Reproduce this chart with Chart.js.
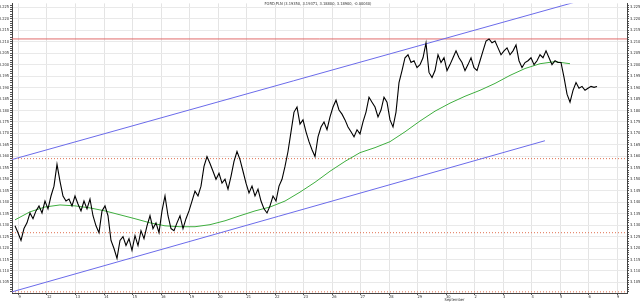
<!DOCTYPE html>
<html><head><meta charset="utf-8">
<script src="https://cdn.jsdelivr.net/npm/chart.js@4"></script>
<style>html,body{margin:0;padding:0;background:#fff;overflow:hidden}canvas{display:block}</style>
</head><body>
<canvas id="c" width="640" height="302"></canvas>
<script>
const TITLE = 'FORD PLN (3.19350, 3.19371, 3.18800, 3.18900, -0.00040)';
const MONTH_LABEL = 'September';
const MONTH_LABEL_DAY = 15.3;
const DAY_LABELS = ['9','12','13','14','15','16','19','20','21','22','23','26','27','28','29','30','2','3','4','5','6','9'];
const Y_TICKS = [3.105,3.110,3.115,3.120,3.125,3.130,3.135,3.140,3.145,3.150,3.155,3.160,3.165,3.170,3.175,3.180,3.185,3.190,3.195,3.200,3.205,3.210,3.215,3.220,3.225];
const X_RANGE = [-0.228, 21.35];
const Y_RANGE = [3.1004, 3.2267];

const PRICE_START_DAY = -0.123;
const SAMPLES_PER_DAY = 9.5;
const PRICES = [
3.1297,3.1267,3.1233,3.1285,3.1310,3.1353,3.1328,3.1362,3.1384,3.1353,
3.1405,3.1371,3.1427,3.1470,3.1565,3.1491,3.1427,3.1405,3.1414,3.1384,
3.1427,3.1392,3.1362,3.1405,3.1371,3.1414,3.1341,3.1297,3.1267,3.1362,
3.1384,3.1341,3.1233,3.1198,3.1155,3.1233,3.1250,3.1211,3.1241,3.1190,
3.1254,3.1211,3.1276,3.1241,3.1297,3.1341,3.1285,3.1310,3.1267,3.1362,
3.1427,3.1341,3.1285,3.1276,3.1310,3.1341,3.1285,3.1328,3.1362,3.1405,
3.1448,3.1427,3.1470,3.1556,3.1599,3.1569,3.1535,3.1500,3.1526,3.1483,
3.1500,3.1457,3.1513,3.1578,3.1621,3.1586,3.1535,3.1483,3.1440,3.1470,
3.1427,3.1457,3.1405,3.1371,3.1353,3.1384,3.1427,3.1405,3.1470,3.1500,
3.1556,3.1621,3.1707,3.1793,3.1815,3.1741,3.1759,3.1707,3.1664,3.1629,
3.1599,3.1685,3.1728,3.1750,3.1716,3.1772,3.1815,3.1845,3.1802,3.1784,
3.1759,3.1728,3.1707,3.1685,3.1716,3.1698,3.1750,3.1793,3.1858,3.1836,
3.1815,3.1772,3.1802,3.1858,3.1836,3.1759,3.1728,3.1793,3.1922,3.1974,
3.2030,3.2043,3.2009,3.2017,3.1987,3.2000,3.2030,3.2095,3.1966,3.1944,
3.1974,3.2043,3.2009,3.2030,3.1974,3.2000,3.2030,3.2060,3.2030,3.2009,
3.1974,3.2000,3.2030,3.1987,3.1974,3.2017,3.2060,3.2103,3.2112,3.2095,
3.2103,3.2073,3.2043,3.2060,3.2073,3.2043,3.2060,3.2086,3.2017,3.1987,
3.2009,3.2017,3.2030,3.2000,3.2017,3.2043,3.2030,3.2060,3.2030,3.2000,
3.2017,3.2009,3.2009,3.1944,3.1871,3.1836,3.1888,3.1922,3.1897,3.1905,
3.1888,3.1897,3.1905,3.1901,3.1905
];
const MA_STRIDE = 5;
const MOVING_AVG = [
3.1323,3.1358,3.1379,3.1388,3.1384,3.1375,3.1362,3.1345,3.1328,3.1310,
3.1297,3.1293,3.1293,3.1302,3.1319,3.1341,3.1362,3.1379,3.1405,3.1444,
3.1487,3.1535,3.1578,3.1616,3.1638,3.1664,3.1707,3.1754,3.1797,3.1832,
3.1862,3.1888,3.1918,3.1953,3.1983,3.2004,3.2013,3.2004
];
const UPPER_CHANNEL_DAYS = [-0.228, 21.35];
const UPPER_CHANNEL_VALUES = [3.1586, 3.2336];
const LOWER_CHANNEL_DAYS = [-0.228, 18.47];
const LOWER_CHANNEL_VALUES = [3.1009, 3.1668];
const RESISTANCE_LEVEL = 3.2112;
const DOTTED_LEVELS = [3.1590, 3.1267, 3.1009];

const FONT = {family: '"DejaVu Sans Condensed", "Liberation Sans Narrow", "DejaVu Sans", sans-serif', size: 4};
const step = 1 / SAMPLES_PER_DAY;
const priceData = PRICES.map((v, i) => ({x: PRICE_START_DAY + i * step, y: v}));
const maData = MOVING_AVG.map((v, k) => ({x: PRICE_START_DAY + k * MA_STRIDE * step, y: v}));
const line = (data, color, extra) => Object.assign({data, borderColor: color, borderWidth: 1, pointRadius: 0, tension: 0, fill: false}, extra || {});

const datasets = [
  line(priceData, '#000000', {borderWidth: 1.1}),
  line(maData, '#3fae3f'),
  line(UPPER_CHANNEL_DAYS.map((d, i) => ({x: d, y: UPPER_CHANNEL_VALUES[i]})), '#6b6bea'),
  line(LOWER_CHANNEL_DAYS.map((d, i) => ({x: d, y: LOWER_CHANNEL_VALUES[i]})), '#6b6bea'),
  line(X_RANGE.map(d => ({x: d, y: RESISTANCE_LEVEL})), '#e06b6b'),
  ...DOTTED_LEVELS.map(lv => line(X_RANGE.map(d => ({x: d, y: lv})), '#e07050', {borderDash: [1, 2]}))
];

const isMajor = v => Y_TICKS.some(t => Math.abs(t - v) < 1e-7);
const minorTicks = () => {
  const out = [];
  for (let n = Math.ceil(Y_RANGE[0] * 1000); n <= Math.floor(Y_RANGE[1] * 1000); n++) out.push({value: n / 1000});
  return out;
};
const yAxis = (pos, w) => ({
  type: 'linear', position: pos, min: Y_RANGE[0], max: Y_RANGE[1],
  afterBuildTicks: s => { s.ticks = minorTicks(); },
  afterFit: s => { s.width = w; },
  border: {color: '#444', width: 1},
  grid: {color: c => (c.tick && isMajor(c.tick.value)) ? '#e9e9e9' : 'rgba(0,0,0,0)', tickColor: '#555', tickLength: 2, drawOnChartArea: pos === 'left'},
  ticks: {font: FONT, color: '#333', padding: 1, autoSkip: false,
    callback: v => isMajor(v) ? v.toFixed(3) : ''}
});

const textPlugin = {
  id: 'texts',
  afterDraw(chart) {
    const ctx = chart.ctx;
    ctx.save();
    ctx.font = '4px "DejaVu Sans Condensed", "DejaVu Sans", sans-serif';
    ctx.fillStyle = '#333';
    ctx.textAlign = 'center';
    ctx.fillText(TITLE, 318, 5);
    ctx.fillText(MONTH_LABEL, chart.scales.x.getPixelForValue(MONTH_LABEL_DAY), 301);
    ctx.restore();
  }
};

new Chart(document.getElementById('c'), {
  type: 'line',
  data: {datasets},
  options: {
    responsive: false, animation: false, devicePixelRatio: 1,
    layout: {padding: 0},
    plugins: {legend: {display: false}, tooltip: {enabled: false}, title: {display: false}},
    scales: {
      x: {
        type: 'linear', min: X_RANGE[0], max: X_RANGE[1],
        afterBuildTicks: s => { s.ticks = DAY_LABELS.map((_, i) => ({value: i})); },
        afterFit: s => { s.height = 9; },
        border: {color: '#444', width: 1},
        grid: {color: '#e4e4e4', tickColor: '#555', tickLength: 2},
        ticks: {font: FONT, color: '#333', padding: 0, autoSkip: false, maxRotation: 0, align: 'start',
          callback: v => DAY_LABELS[Math.round(v)] ?? ''}
      },
      y: yAxis('left', 12),
      y2: yAxis('right', 13)
    }
  },
  plugins: [textPlugin]
});
</script>
</body></html>
